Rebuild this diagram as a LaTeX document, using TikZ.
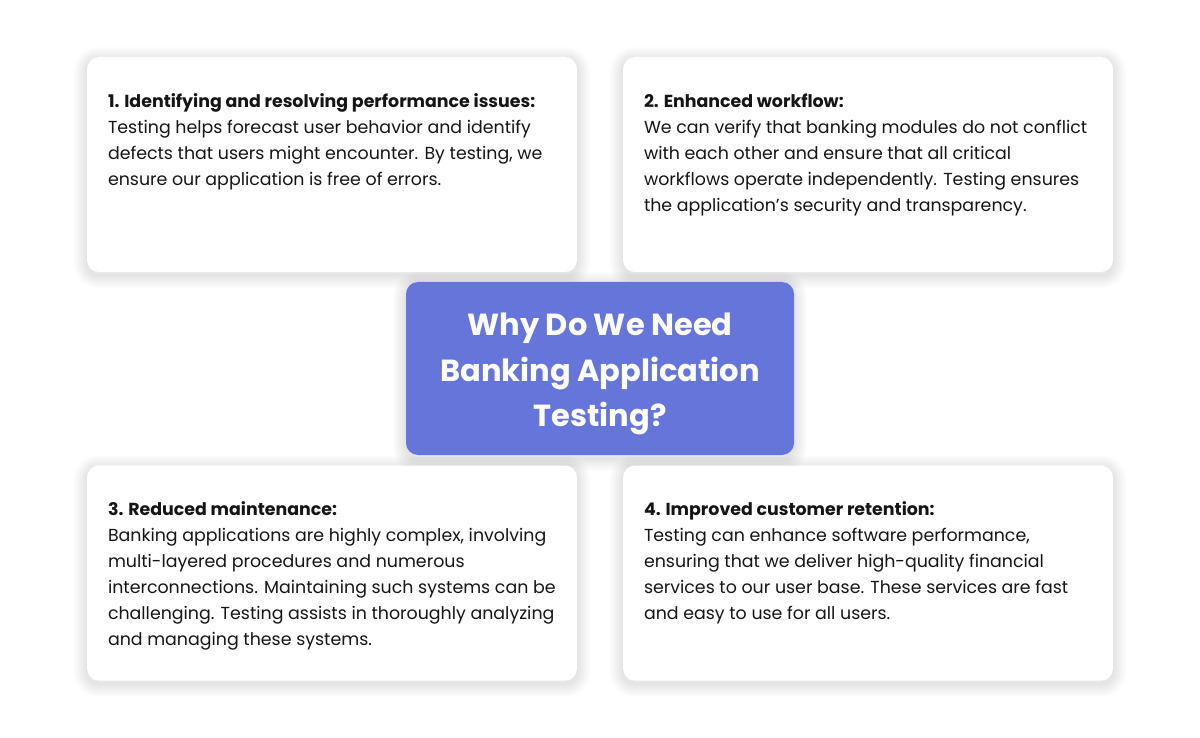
\documentclass[tikz,border=0pt]{standalone}
\usepackage{fontspec}
\setmainfont{Poppins}
\usetikzlibrary{backgrounds}
\definecolor{hubcol}{HTML}{6675D9}
\definecolor{inkcol}{HTML}{151515}
\tikzset{
  card/.style={fill=white,rounded corners=12pt,minimum width=490pt,minimum height=215pt,inner sep=0pt},
  cardtext/.style={anchor=north west,align=left,inner sep=0pt,text=inkcol,font=\fontsize{17.4}{26}\selectfont},
  hub/.style={fill=hubcol,rounded corners=12pt,minimum width=388pt,minimum height=173pt,inner sep=0pt},
  hubtext/.style={text=white,align=center,inner sep=0pt,font=\fontsize{30.5}{45.5}\selectfont\bfseries},
}
\begin{document}
\begin{tikzpicture}[x=1pt,y=-1pt]
  \useasboundingbox (0,0) rectangle (1200,738);
  % cards
  \node[card] (c1) at (332,164.5) {};
  \node[card] (c2) at (868,164.5) {};
  \node[card] (c3) at (332,573) {};
  \node[card] (c4) at (868,573) {};
  \node[hub] (hub) at (600,368.5) {};
  \node[hubtext] (q) at ([yshift=-5.5pt]hub.center) {Why Do We Need\\Banking Application\\Testing?};
  % soft shadows under the cards
  \begin{scope}[on background layer]
    \fill[white] (0,0) rectangle (1200,738);
    \foreach \c in {c1,c2,c3,c4,hub}
      \foreach \w in {2,5,...,26}
        \draw[black,opacity=0.011,line width=\w pt,rounded corners=12pt]
          ([yshift=-3pt]\c.north west) rectangle ([yshift=-3pt]\c.south east);
  \end{scope}
  % texts
  \node[cardtext] (t1) at ([shift={(21,36.5)}]c1.north west)
    {\textbf{1. Identifying and resolving performance issues:}\\
     Testing helps forecast user behavior and identify\\
     defects that users might encounter. By testing, we\\
     ensure our application is free of errors.};
  \node[cardtext] (t2) at ([shift={(21,36.5)}]c2.north west)
    {\textbf{2. Enhanced workflow:}\\
     We can verify that banking modules do not conflict\\
     with each other and ensure that all critical\\
     workflows operate independently. Testing ensures\\
     the application's security and transparency.};
  \node[cardtext] (t3) at ([shift={(21,36.5)}]c3.north west)
    {\textbf{3. Reduced maintenance:}\\
     Banking applications are highly complex, involving\\
     multi-layered procedures and numerous\\
     interconnections. Maintaining such systems can be\\
     challenging. Testing assists in thoroughly analyzing\\
     and managing these systems.};
  \node[cardtext] (t4) at ([shift={(21,36.5)}]c4.north west)
    {\textbf{4. Improved customer retention:}\\
     Testing can enhance software performance,\\
     ensuring that we deliver high-quality financial\\
     services to our user base. These services are fast\\
     and easy to use for all users.};
\end{tikzpicture}
\end{document}
